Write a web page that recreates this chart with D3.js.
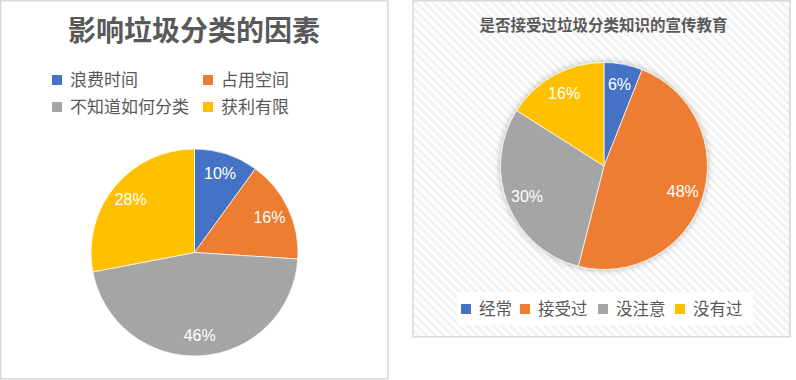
<!DOCTYPE html>
<html>
<head>
<meta charset="utf-8">
<script src="https://cdn.jsdelivr.net/npm/d3@7"></script>
<style>
  body { margin: 0; background: #fff; }
  text { font-family: "Liberation Sans", "Noto Sans CJK SC", sans-serif; }
</style>
</head>
<body>
<div id="chart"></div>
<script>
const colors = ["#4472c4", "#ed7d31", "#a5a5a5", "#ffc000"];

const factorCats = ["浪费时间", "占用空间", "不知道如何分类", "获利有限"];
const factorVals = [10, 16, 46, 28];

const eduCats = ["经常", "接受过", "没注意", "没有过"];
const eduVals = [6, 48, 30, 16];

const svg = d3.select("#chart").append("svg")
  .attr("width", 796)
  .attr("height", 380);

const defs = svg.append("defs");

// diagonal hatch for the right panel
const pat = defs.append("pattern")
  .attr("id", "hatch")
  .attr("patternUnits", "userSpaceOnUse")
  .attr("width", 6).attr("height", 6)
  .attr("patternTransform", "rotate(45)");
pat.append("rect").attr("width", 6).attr("height", 6).attr("fill", "#ffffff");
pat.append("rect").attr("width", 6).attr("height", 3).attr("fill", "#f2f2f2");

const shadow = defs.append("filter").attr("id", "glow")
  .attr("x", "-20%").attr("y", "-20%").attr("width", "140%").attr("height", "140%");
shadow.append("feGaussianBlur").attr("in", "SourceAlpha").attr("stdDeviation", 3).attr("result", "b");
shadow.append("feFlood").attr("flood-color", "#000").attr("flood-opacity", 0.3);
shadow.append("feComposite").attr("in2", "b").attr("operator", "in").attr("result", "s");
const merge = shadow.append("feMerge");
merge.append("feMergeNode").attr("in", "s");
merge.append("feMergeNode").attr("in", "SourceGraphic");

// panels
svg.append("rect")
  .attr("x", 0.75).attr("y", 0.75).attr("width", 387).attr("height", 378)
  .attr("fill", "#fff").attr("stroke", "#d9d9d9").attr("stroke-width", 1.5);

svg.append("rect")
  .attr("x", 413).attr("y", 0.75).attr("width", 377).attr("height", 336)
  .attr("fill", "url(#hatch)").attr("stroke", "#d9d9d9").attr("stroke-width", 1.5);

const pie = d3.pie().sort(null).value(d => d);

function drawPie(g, vals, r, filter) {
  const arc = d3.arc().innerRadius(0).outerRadius(r);
  const lab = d3.arc().innerRadius(r * 0.8).outerRadius(r * 0.8);
  const arcs = pie(vals);
  const slices = g.append("g");
  if (filter) slices.attr("filter", filter);
  slices.selectAll("path")
    .data(arcs)
    .join("path")
    .attr("d", arc)
    .attr("fill", (d, i) => colors[i])
    .attr("stroke", "#fff")
    .attr("stroke-width", 0.7);
  g.selectAll("text.lbl")
    .data(arcs)
    .join("text")
    .attr("class", "lbl")
    .attr("transform", d => "translate(" + lab.centroid(d) + ")")
    .attr("text-anchor", "middle")
    .attr("dy", "0.35em")
    .attr("fill", "#fff")
    .attr("font-size", 16)
    .text(d => d.data + "%");
}

// left chart
const left = svg.append("g");
left.append("text")
  .attr("x", 194).attr("y", 41)
  .attr("text-anchor", "middle")
  .attr("font-size", 28).attr("font-weight", "bold")
  .attr("fill", "#595959")
  .text("影响垃圾分类的因素");

const legL = left.selectAll("g.leg")
  .data(factorCats)
  .join("g")
  .attr("class", "leg")
  .attr("transform", (d, i) => "translate(" + (i % 2 ? 203 : 52) + "," + (i < 2 ? 80 : 107) + ")");
legL.append("rect")
  .attr("x", 0).attr("y", -5).attr("width", 10).attr("height", 10)
  .attr("fill", (d, i) => colors[i]);
legL.append("text")
  .attr("x", 18).attr("dy", "0.35em")
  .attr("font-size", 17).attr("fill", "#595959")
  .text(d => d);

drawPie(left.append("g").attr("transform", "translate(194.5,252.5)"), factorVals, 103.5, null);

// right chart
const right = svg.append("g");
right.append("text")
  .attr("x", 603.5).attr("y", 31)
  .attr("text-anchor", "middle")
  .attr("font-size", 15.5).attr("font-weight", "bold")
  .attr("fill", "#595959")
  .text("是否接受过垃圾分类知识的宣传教育");

drawPie(right.append("g").attr("transform", "translate(604,166)"), eduVals, 103.5, "url(#glow)");

right.append("rect")
  .attr("x", 457).attr("y", 292).attr("width", 296).attr("height", 33)
  .attr("fill", "#fff");

const legX = [461, 520, 598, 675];
const legR = right.selectAll("g.leg")
  .data(eduCats)
  .join("g")
  .attr("class", "leg")
  .attr("transform", (d, i) => "translate(" + legX[i] + ",309)");
legR.append("rect")
  .attr("x", 0).attr("y", -5).attr("width", 10).attr("height", 10)
  .attr("fill", (d, i) => colors[i]);
legR.append("text")
  .attr("x", 18).attr("dy", "0.35em")
  .attr("font-size", 16.5).attr("fill", "#595959")
  .text(d => d);
</script>
</body>
</html>
